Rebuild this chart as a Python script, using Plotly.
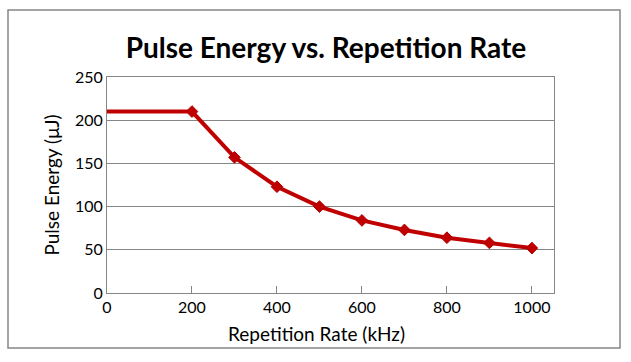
import plotly.graph_objects as go

rep_rate_khz = [0, 200, 300, 400, 500, 600, 700, 800, 900, 1000]
pulse_energy_uj = [210, 210, 157, 123, 100, 84, 73, 64, 58, 52]
marker_sizes = [0, 9, 9, 9, 9, 9, 9, 9, 9, 9]

title_text = "Pulse Energy vs. Repetition Rate"
x_title = "Repetition Rate (kHz)"
y_title = "Pulse Energy (μJ)"

W, H = 631, 362
L, R, T, B = 107, 77, 77, 69
pw, ph = W - L - R, H - T - B

def px(x):
    return (x - L) / pw

def py(y):
    return (H - B - y) / ph

fig = go.Figure()
fig.add_trace(go.Scatter(
    x=rep_rate_khz, y=pulse_energy_uj, mode="lines+markers",
    line=dict(color="#C00000", width=4),
    marker=dict(symbol="diamond", size=marker_sizes, color="#C00000",
                opacity=1, line=dict(color="#B00000", width=1)),
    cliponaxis=False, showlegend=False, hoverinfo="skip",
))

grid = "#868686"
fig.update_layout(
    width=W, height=H,
    margin=dict(l=L, r=R, t=T, b=B),
    paper_bgcolor="white", plot_bgcolor="white",
    font=dict(family="Lato", color="black"),
    title=dict(text="<b>" + title_text + "</b>", x=326 / W, xanchor="center",
               y=1 - 48 / H, yanchor="middle",
               font=dict(size=28, family="Lato", color="black")),
    xaxis=dict(range=[0, 1052], tickvals=[0, 200, 400, 600, 800, 1000],
               showgrid=False, showline=True, linecolor=grid, linewidth=1,
               mirror=True, ticks="inside", ticklen=7, tickcolor=grid,
               tickfont=dict(size=16), zeroline=False),
    yaxis=dict(range=[0, 250], tickvals=[0, 50, 100, 150, 200, 250],
               showgrid=True, gridcolor=grid, gridwidth=1,
               showline=True, linecolor=grid, linewidth=1, mirror=True,
               ticks="", tickfont=dict(size=16), zeroline=False,
               title=dict(text=y_title, font=dict(size=19), standoff=10)),
    annotations=[dict(text=x_title, xref="paper", yref="paper",
                      x=px(316), y=py(333), xanchor="center", yanchor="middle",
                      showarrow=False, font=dict(size=19, color="black"))],
    shapes=[dict(type="rect", xref="paper", yref="paper",
                 x0=px(8), x1=px(620), y0=py(10), y1=py(348),
                 line=dict(color=grid, width=1.5), layer="below")],
)

fig.write_html("out.html", config={"displayModeBar": False},
               post_script="document.body.style.margin='0';")
